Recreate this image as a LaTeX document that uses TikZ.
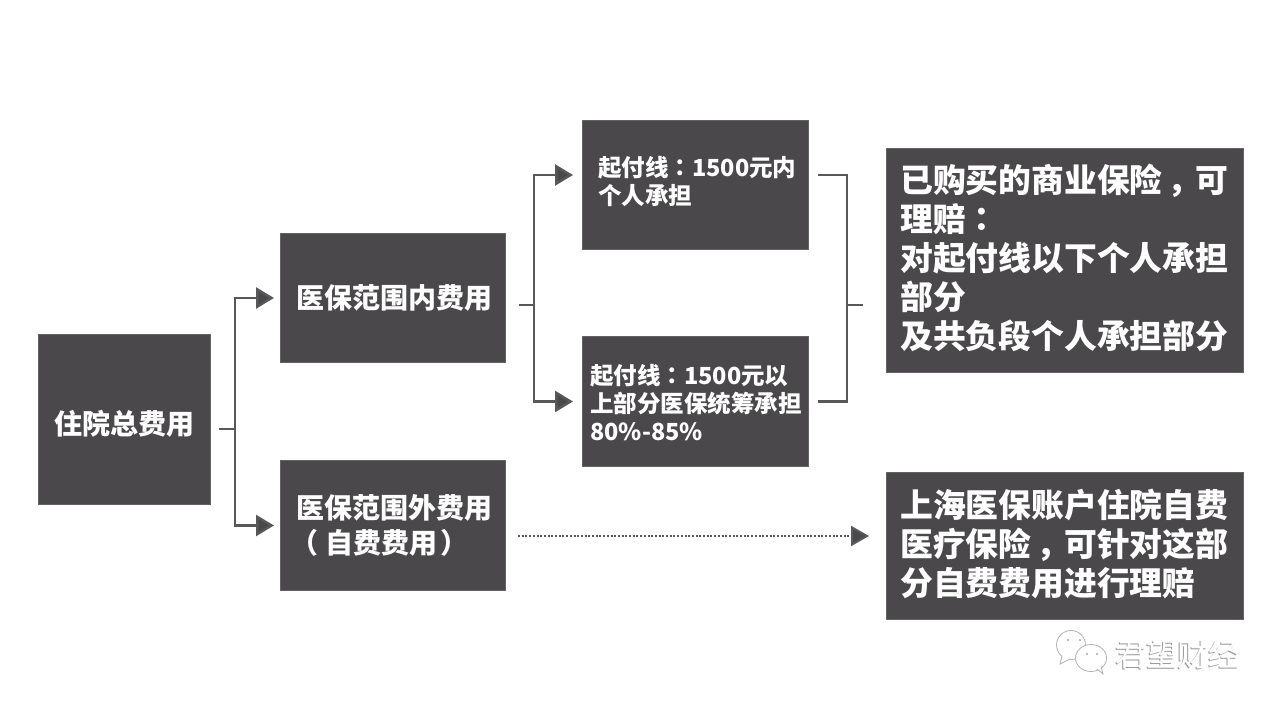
\documentclass[tikz,border=0pt]{standalone}
\usepackage{fontspec}
\setmainfont{Noto Sans CJK SC}
\newfontfamily\tcpunct{Noto Sans CJK TC}
\newcommand{\cp}[1]{{\tcpunct\bfseries #1}}
\newcommand{\cmm}{\kern.16em，\kern-.16em}
\usetikzlibrary{arrows.meta}
\definecolor{boxc}{HTML}{4A484B}
\definecolor{linec}{HTML}{58575A}
\tikzset{
  boxn/.style={fill=boxc,draw=boxc!85!white,line width=0.6pt,inner sep=0pt},
  txt/.style={text=white,align=left,inner sep=0pt,anchor=west},
  conn/.style={draw=linec,line width=2.5pt},
  arr/.style={conn,-{Triangle[length=18pt,width=21pt,fill=boxc]}},
  dots/.style={draw=linec,line width=2pt,dash pattern=on 2pt off 1.7pt,-{Triangle[length=18pt,width=20pt,fill=boxc]}},
  fa/.style={font=\fontsize{28}{35}\selectfont\bfseries},
  fb/.style={font=\fontsize{23.5}{28}\selectfont\bfseries},
  fc/.style={font=\fontsize{32.8}{39}\selectfont\bfseries},
  bub/.style={draw=black!30,line width=0.8pt,fill=white},
}
\begin{document}
\begin{tikzpicture}[x=1pt,y=-1pt]
\useasboundingbox (0,0) rectangle (1280,711);
\fill[white] (0,0) rectangle (1280,711);
% boxes
\node[boxn,minimum width=172.4pt,minimum height=170.4pt] (a) at (124.5,419.5) {};
\node[boxn,minimum width=225.4pt,minimum height=129.4pt] (b) at (393,298) {};
\node[boxn,minimum width=225.4pt,minimum height=130.4pt] (c) at (393,525.5) {};
\node[boxn,minimum width=226.4pt,minimum height=129.4pt] (d) at (695.5,185) {};
\node[boxn,minimum width=226.4pt,minimum height=130.4pt] (e) at (695.5,401.5) {};
\node[boxn,minimum width=357.4pt,minimum height=224.4pt] (f) at (1065,260.5) {};
\node[boxn,minimum width=357.4pt,minimum height=147.4pt] (g) at (1065,546) {};
% texts
\node[txt,fa] (ta) at (54,424) {住院总费用};
\node[txt,fa] (tb) at (296,298) {医保范围内费用};
\node[txt,fa] (tc) at (296,525) {医保范围外费用\\\kern-.2em（\kern.24em 自费费用\kern.1em ）};
\node[txt,fb] (td) at (598,181.5) {起付线\cp{：}1500元内\\个人承担};
\node[txt,fb] (te) at (590,403) {起付线\cp{：}1500元以\\上部分医保统筹承担\\80\%-85\%};
\node[txt,fc] (tf) at (900,258) {已购买的商业保险\cmm 可\\理赔\cp{：}\\对起付线以下个人承担\\部分\\及共负段个人承担部分};
\node[txt,fc] (tg) at (900,544) {上海医保账户住院自费\\医疗保险\cmm 可针对这部\\分自费费用进行理赔};
% connectors: left fork
\coordinate (j1) at (235,429);
\draw[conn,shorten <=8pt] ([yshift=-9.5pt]a.east) -- (j1);
\draw[arr,shorten >=6pt] (j1) |- (b.west);
\draw[arr,shorten >=6pt] (j1) |- (c.west);
% middle fork
\coordinate (j2) at (534,305);
\draw[conn,shorten <=13pt] ([yshift=-7pt]b.east) -- (j2);
\draw[arr,shorten >=9pt] (j2) |- ([yshift=10pt]d.west);
\draw[arr,shorten >=9pt] (j2) |- (e.west);
% right bracket
\coordinate (j3) at (847,305);
\draw[conn,shorten <=9pt] ([yshift=10pt]d.east) -| (j3);
\draw[conn,shorten <=9pt] (e.east) -| (j3);
\draw[conn,shorten >=23pt] (j3) -- (f.west |- j3);
% dotted connector
\draw[dots,shorten <=12pt,shorten >=17pt] ([yshift=-10.5pt]c.east) -- ([yshift=10pt]g.west);
% watermark
\draw[bub] (1071,645) ellipse (14.5pt and 14.5pt);
\draw[bub] (1062,656) -- (1060,664) -- (1070,659);
\fill[black!35] (1068,640) circle (1.2pt) (1080,640) circle (1.2pt);
\draw[bub] (1091,658) ellipse (15.5pt and 13.5pt);
\draw[bub,fill=white] (1097,669) -- (1103,674) -- (1101,666);
\fill[black!35] (1087,654) circle (1.2pt) (1097,654) circle (1.2pt);
\node[inner sep=0pt,anchor=west,text=black!40,font=\fontsize{31}{31}\selectfont] (w1) at (1114.6,655.6) {君望财经};
\node[inner sep=0pt,anchor=west,text=white,font=\fontsize{31}{31}\selectfont] (w2) at (1115.4,655) {君望财经};
\end{tikzpicture}
\end{document}
